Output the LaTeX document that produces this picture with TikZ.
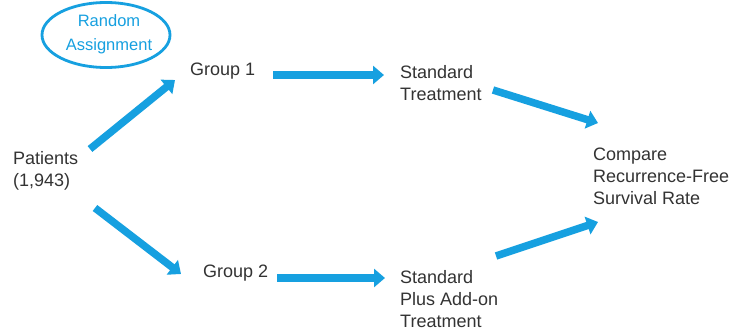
\documentclass[tikz,border=0pt]{standalone}
\usepackage{fontspec}
\setmainfont{Liberation Sans}
\usetikzlibrary{arrows.meta,shapes.geometric}
\definecolor{flowblue}{RGB}{22,160,224}
\definecolor{labelgray}{RGB}{51,51,51}
\begin{document}
\begin{tikzpicture}[x=1pt,y=-1pt,
  label/.style={text=labelgray,font=\fontsize{18}{22}\selectfont,align=left,anchor=west,inner sep=0pt},
  flow/.style={draw=flowblue,line width=7.5pt,-{Triangle[length=11pt,width=18pt]}}]
\useasboundingbox[fill=white] (0,0) rectangle (742,330);

% oval callout
\node[ellipse,draw=flowblue,line width=2.8pt,minimum width=128pt,minimum height=65pt,inner sep=0pt] (ra) at (106,35) {};
\node[text=flowblue,font=\fontsize{16.5}{24.5}\selectfont,align=center,inner sep=0pt] (ratext) at (109,34) {Random\\Assignment};

% labels
\node[label] (pat) at (13,171) {Patients\\(1,943)};
\node[label] (g1) at (190,71) {Group 1};
\node[label] (g2) at (203,273) {Group 2};
\node[label] (std) at (400,83) {Standard\\Treatment};
\node[label] (add) at (400,299) {Standard\\Plus Add-on\\Treatment};
\node[label] (cmp) at (593,176) {Compare\\Recurrence-Free\\Survival Rate};

% arrow ends
\coordinate (p1s) at (90,149);
\coordinate (p1e) at (175,80);
\coordinate (p2s) at (95,208);
\coordinate (p2e) at (181,274);
\coordinate (g1s) at (273,75);
\coordinate (g1e) at (384,75);
\coordinate (g2s) at (277,278);
\coordinate (g2e) at (385,278);
\coordinate (sts) at (493,90);
\coordinate (ste) at (598,123);
\coordinate (ads) at (496,256);
\coordinate (ade) at (598,222);

\draw[flow] (p1s) -- (p1e);
\draw[flow] (p2s) -- (p2e);
\draw[flow] (g1s) -- (g1e);
\draw[flow] (g2s) -- (g2e);
\draw[flow] (sts) -- (ste);
\draw[flow] (ads) -- (ade);
\end{tikzpicture}
\end{document}
